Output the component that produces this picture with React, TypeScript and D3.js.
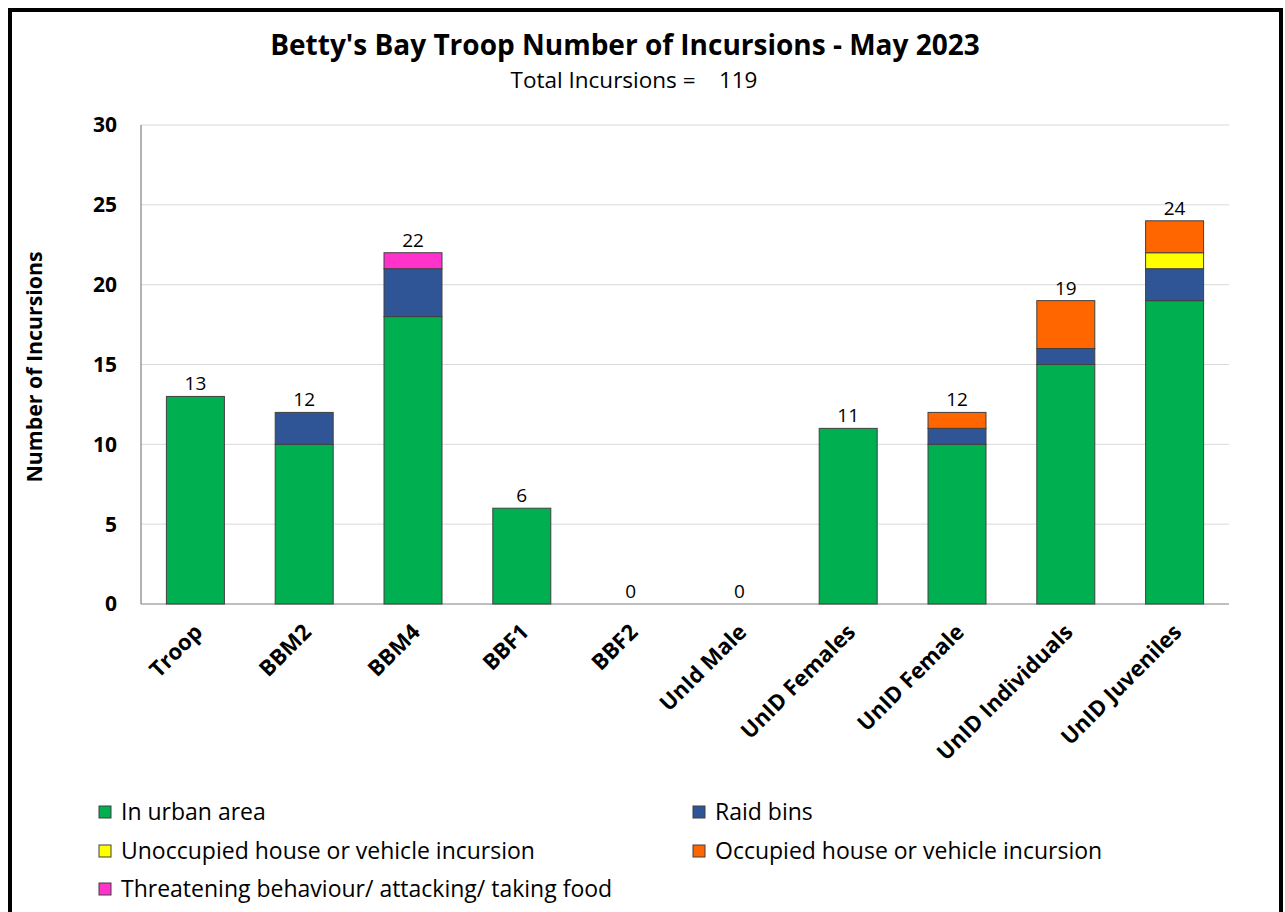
import React from "react";
import * as d3 from "d3";

const categories = ["Troop", "BBM2", "BBM4", "BBF1", "BBF2", "UnId Male", "UnID Females", "UnID Female", "UnID Individuals", "UnID Juveniles"];
const seriesNames = ["In urban area", "Raid bins", "Unoccupied house or vehicle incursion", "Occupied house or vehicle incursion", "Threatening behaviour/ attacking/ taking food"];
const urban = [13, 10, 18, 6, 0, 0, 11, 10, 15, 19];
const raidBins = [0, 2, 3, 0, 0, 0, 0, 1, 1, 2];
const unoccupied = [0, 0, 0, 0, 0, 0, 0, 0, 0, 1];
const occupied = [0, 0, 0, 0, 0, 0, 0, 1, 3, 2];
const threatening = [0, 0, 1, 0, 0, 0, 0, 0, 0, 0];
const colors = ["#00B050", "#2F5597", "#FFFF00", "#FF6600", "#FF33CC"];
const yTicks = [0, 5, 10, 15, 20, 25, 30];
const totalIncursions = 119;

const FONT = "'Open Sans', sans-serif";

export default function App() {
  const W = 1285, H = 912;
  const left = 141, right = 1229, top = 125, bottom = 604;
  const series = [urban, raidBins, unoccupied, occupied, threatening];
  const rows = categories.map((c, i) => {
    const o: any = { cat: c };
    seriesNames.forEach((s, k) => (o[s] = series[k][i]));
    return o;
  });
  const stacked = d3.stack<any>().keys(seriesNames)(rows);
  const x = d3.scaleBand().domain(categories).range([left, right]).paddingInner(0.467).paddingOuter(0.2335);
  const y = d3.scaleLinear().domain([0, 30]).range([bottom, top]);
  const totals = categories.map((_, i) => series.reduce((a, s) => a + s[i], 0));

  const legendItems = [
    { i: 0, x: 99, y: 812 },
    { i: 1, x: 693, y: 812 },
    { i: 2, x: 99, y: 851 },
    { i: 3, x: 693, y: 851 },
    { i: 4, x: 99, y: 889 },
  ];

  return (
    <div style={{ position: "absolute", left: 0, top: 0 }}>
      <svg width={W} height={H} style={{ display: "block", fontFamily: FONT }}>
        <rect x={0} y={0} width={W} height={H} fill="#fff" />
        <rect x={10} y={10} width={1271} height={H + 20} fill="none" stroke="#000" strokeWidth={4} />
        <text x={625} y={55} textAnchor="middle" fontSize={28} fontWeight="bold" fill="#000">
          Betty's Bay Troop Number of Incursions - May 2023
        </text>
        <text x={634} y={88} textAnchor="middle" fontSize={22.5} fill="#000" xmlSpace="preserve">
          {"Total Incursions =    " + totalIncursions}
        </text>
        {yTicks.map((t) => (
          <g key={t}>
            {t > 0 && <line x1={left} x2={right} y1={y(t)} y2={y(t)} stroke="#D9D9D9" strokeWidth={1} />}
            <text x={117} y={y(t)} dy="0.35em" textAnchor="end" fontSize={21} fontWeight="bold" fill="#000">
              {t}
            </text>
          </g>
        ))}
        <line x1={left} x2={left} y1={top} y2={bottom} stroke="#808080" strokeWidth={1.2} />
        <line x1={left} x2={right} y1={bottom} y2={bottom} stroke="#808080" strokeWidth={1.2} />
        {stacked.map((layer, k) => (
          <g key={k} fill={colors[k]}>
            {layer.map((d, i) =>
              d[1] - d[0] > 0 ? (
                <rect
                  key={i}
                  x={x(categories[i])}
                  width={x.bandwidth()}
                  y={y(d[1])}
                  height={y(d[0]) - y(d[1])}
                  stroke="#404040"
                  strokeWidth={1}
                />
              ) : null
            )}
          </g>
        ))}
        {totals.map((t, i) => (
          <text key={i} x={(x(categories[i]) as number) + x.bandwidth() / 2} y={y(t) - 6} textAnchor="middle" fontSize={19} fill="#000">
            {t}
          </text>
        ))}
        {categories.map((c, i) => {
          const cx = (x(c) as number) + x.bandwidth() / 2 + 3;
          const cy = bottom + 24;
          return (
            <text key={c} transform={`translate(${cx},${cy}) rotate(-45)`} textAnchor="end" dy="0.35em" fontSize={22} fontWeight="bold" fill="#000">
              {c}
            </text>
          );
        })}
        <text transform={`translate(42,${367}) rotate(-90)`} textAnchor="middle" fontSize={21.3} fontWeight="bold" fill="#000">
          Number of Incursions
        </text>
        {legendItems.map((l) => (
          <g key={l.i}>
            <rect x={l.x} y={l.y - 6} width={12} height={12} fill={colors[l.i]} stroke="#404040" strokeWidth={1} />
            <text x={l.x + 22} y={l.y} dy="0.35em" fontSize={23} fill="#000">
              {seriesNames[l.i]}
            </text>
          </g>
        ))}
      </svg>
    </div>
  );
}
